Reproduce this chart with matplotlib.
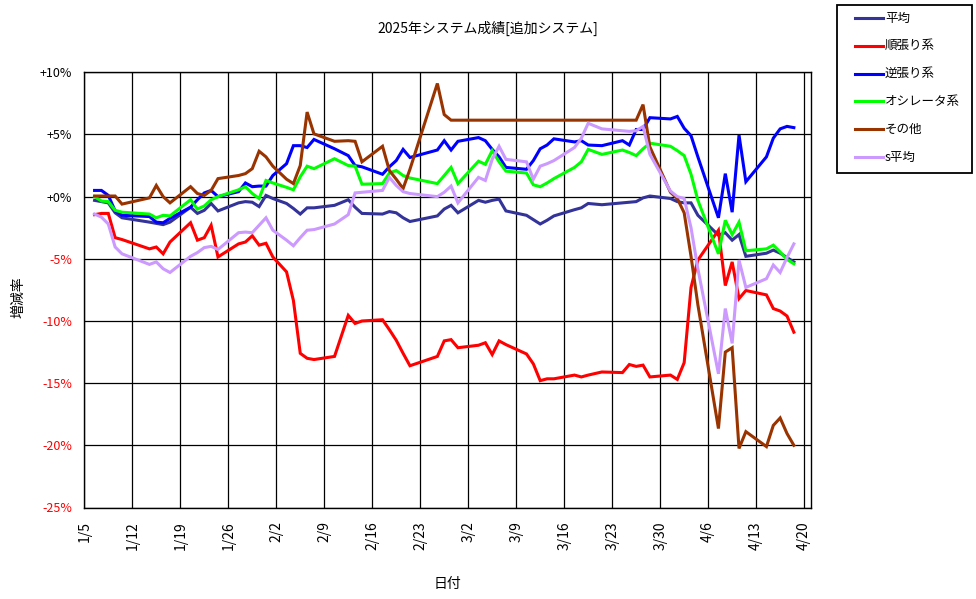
import matplotlib
matplotlib.use("Agg")
import matplotlib.pyplot as plt
import pandas as pd
from matplotlib.lines import Line2D
from matplotlib.patches import Rectangle

plt.rcParams['font.family'] = ['Noto Sans CJK JP', 'DejaVu Sans']

title = "2025年システム成績[追加システム]"
xlabel = "日付"
ylabel = "増減率"

dates = ["1/6", "1/7", "1/8", "1/9", "1/10", "1/14", "1/15", "1/16", "1/17", "1/20",
         "1/21", "1/22", "1/23", "1/24", "1/27", "1/28", "1/29", "1/30", "1/31",
         "2/1", "2/3", "2/4", "2/5", "2/6", "2/7", "2/10", "2/12", "2/13", "2/14",
         "2/17", "2/18", "2/19", "2/20", "2/21", "2/25", "2/26", "2/27", "2/28",
         "3/3", "3/4", "3/5", "3/6", "3/7", "3/10", "3/11", "3/12", "3/13", "3/14",
         "3/17", "3/18", "3/19", "3/21", "3/24", "3/25", "3/26", "3/27", "3/28", "3/31",
         "4/1", "4/2", "4/3", "4/4", "4/7", "4/8", "4/9", "4/10", "4/11",
         "4/14", "4/15", "4/16", "4/17", "4/18"]

series_names = ["平均", "順張り系", "逆張り系", "オシレータ系", "その他", "s平均"]
series_colors = ["#333399", "#FF0000", "#0000FF", "#00FF00", "#993300", "#CC99FF"]

avg = [-0.3, -0.4, -0.5, -1.3, -1.7, -2.05, -2.15, -2.25, -2.05, -0.85,
       -1.35, -1.1, -0.55, -1.15, -0.5, -0.4, -0.45, -0.8, 0.1,
       -0.15, -0.55, -0.95, -1.4, -0.9, -0.9, -0.7, -0.25, -0.85, -1.35,
       -1.4, -1.2, -1.3, -1.7, -2.0, -1.55, -1.0, -0.7, -1.3,
       -0.3, -0.45, -0.3, -0.2, -1.15, -1.5, -1.85, -2.2, -1.9, -1.55,
       -1.05, -0.9, -0.55, -0.65, -0.5, -0.45, -0.4, -0.1, 0.05, -0.15,
       -0.4, -0.5, -0.5, -1.5, -3.1, -2.9, -3.5, -3.05, -4.8,
       -4.55, -4.3, -4.55, -4.9, -5.25]

trend = [-1.45, -1.35, -1.35, -3.3, -3.45, -4.2, -4.05, -4.6, -3.65, -2.1,
         -3.5, -3.3, -2.3, -4.85, -3.8, -3.65, -3.15, -3.9, -3.75,
         -4.85, -6.05, -8.35, -12.6, -13.0, -13.1, -12.85, -9.55, -10.2, -10.0,
         -9.9, -10.7, -11.55, -12.6, -13.6, -12.85, -11.6, -11.5, -12.15,
         -11.95, -11.75, -12.7, -11.6, -11.9, -12.65, -13.45, -14.8, -14.65, -14.65,
         -14.35, -14.5, -14.35, -14.1, -14.15, -13.5, -13.65, -13.55, -14.5, -14.35,
         -14.7, -13.35, -7.3, -5.1, -2.7, -7.15, -5.25, -8.2, -7.55,
         -7.9, -9.0, -9.2, -9.6, -10.9]

contra = [0.5, 0.5, 0.1, -1.15, -1.5, -1.6, -2.05, -2.1, -1.75, -0.85,
          -0.25, 0.3, 0.5, 0.0, 0.4, 1.1, 0.8, 0.85, 0.85,
          1.7, 2.65, 4.1, 4.1, 3.95, 4.6, 3.85, 3.3, 2.5, 2.4,
          1.8, 2.4, 2.9, 3.8, 3.15, 3.75, 4.5, 3.75, 4.45,
          4.75, 4.5, 3.8, 3.2, 2.35, 2.2, 2.9, 3.85, 4.15, 4.65,
          4.4, 4.5, 4.15, 4.1, 4.5, 4.15, 5.4, 5.4, 6.35, 6.25,
          6.45, 5.5, 4.9, 3.2, -1.7, 1.85, -1.25, 4.95, 1.2,
          3.2, 4.7, 5.45, 5.65, 5.55]

osc = [0.0, -0.35, -0.4, -1.1, -1.25, -1.4, -1.7, -1.5, -1.55, -0.25,
       -1.0, -0.75, -0.25, 0.0, 0.55, 0.8, 0.25, -0.15, 1.3,
       1.1, 0.75, 0.55, 1.6, 2.45, 2.25, 3.05, 2.5, 2.45, 1.0,
       1.05, 1.9, 2.1, 1.7, 1.5, 1.05, 1.7, 2.35, 1.05,
       2.85, 2.6, 3.7, 2.8, 2.05, 1.9, 0.95, 0.8, 1.1, 1.45,
       2.35, 2.8, 3.8, 3.4, 3.75, 3.55, 3.3, 3.85, 4.3, 4.05,
       3.7, 3.3, 1.8, -0.3, -4.6, -1.9, -3.05, -2.05, -4.35,
       -4.2, -3.9, -4.45, -5.05, -5.4]

other = [0.05, 0.05, 0.05, 0.05, -0.6, -0.1, 0.9, 0.0, -0.5, 0.8,
         0.25, 0.1, 0.5, 1.45, 1.7, 1.85, 2.25, 3.65, 3.2,
         2.45, 1.4, 1.05, 2.5, 6.8, 5.05, 4.45, 4.5, 4.45, 2.8,
         4.05, 2.1, 1.4, 0.65, 2.2, 9.1, 6.6, 6.15, 6.15,
         6.15, 6.15, 6.15, 6.15, 6.15, 6.15, 6.15, 6.15, 6.15, 6.15,
         6.15, 6.15, 6.15, 6.15, 6.15, 6.15, 6.15, 7.4, 4.0, 0.35,
         -0.15, -1.3, -4.8, -8.7, -18.65, -12.5, -12.15, -20.25, -18.9,
         -20.1, -18.4, -17.8, -19.05, -20.0]

s_avg = [-1.4, -1.65, -2.2, -4.05, -4.6, -5.45, -5.25, -5.8, -6.1, -4.8,
         -4.5, -4.1, -4.0, -4.25, -2.9, -2.85, -2.9, -2.3, -1.7,
         -2.7, -3.5, -3.95, -3.3, -2.7, -2.65, -2.2, -1.45, 0.3, 0.35,
         0.5, 1.55, 0.9, 0.4, 0.25, 0.0, 0.35, 0.85, -0.5,
         1.55, 1.3, 3.0, 4.05, 3.0, 2.8, 1.4, 2.45, 2.65, 2.9,
         3.95, 4.7, 5.9, 5.45, 5.3, 5.25, 5.3, 5.65, 3.4, 0.45,
         0.0, -0.15, -2.5, -5.8, -14.25, -9.0, -11.8, -5.1, -7.3,
         -6.6, -5.5, -6.1, -4.9, -3.8]

tick_labels = ["1/5", "1/12", "1/19", "1/26", "2/2", "2/9", "2/16", "2/23",
               "3/2", "3/9", "3/16", "3/23", "3/30", "4/6", "4/13", "4/20"]
y_ticks = [10, 5, 0, -5, -10, -15, -20, -25]
y_tick_labels = ["+10%", "+5%", "+0%", "-5%", "-10%", "-15%", "-20%", "-25%"]

series_values = [avg, trend, contra, osc, other, s_avg]

# ---- layout ----
W, H = 976, 599
fig = plt.figure(figsize=(W / 100, H / 100), dpi=100)
L, R, T, B = 84.3, 811.0, 72.3, 507.5
ax = fig.add_axes([L / W, 1 - B / H, (R - L) / W, (B - T) / H])

origin = pd.Timestamp("2025-01-05")
def day_pos(s):
    return (pd.Timestamp("2025/" + s) - origin).days

x = [day_pos(s) + 0.5 for s in dates]
xt = [day_pos(s) for s in tick_labels]

for name, col, vals in zip(series_names, series_colors, series_values):
    ax.plot(x, vals, color=col, lw=2.2, label=name, solid_joinstyle='miter')

ax.set_xlim(0, 106)
ax.set_ylim(-25, 10)
ax.set_xticks(xt)
ax.set_xticklabels(tick_labels, rotation=90, fontsize=10)
ax.set_yticks(y_ticks)
ax.set_yticklabels(y_tick_labels, fontsize=9)
for lab, v in zip(ax.get_yticklabels(), y_ticks):
    lab.set_color('red' if v < 0 else 'black')
ax.tick_params(axis='both', length=0)
ax.tick_params(axis='y', pad=9)
ax.tick_params(axis='x', pad=10)
ax.grid(True, color='black', linewidth=0.9)
ax.set_axisbelow(True)
for sp in ax.spines.values():
    sp.set_color('black')
    sp.set_linewidth(1.0)

ax.set_xlabel(xlabel, fontsize=10, va='center')
ax.xaxis.set_label_coords((447 - L) / (R - L), -(584 - B) / (B - T))
ax.set_ylabel(ylabel, fontsize=10, va='center', ha='center')
ax.yaxis.set_label_coords((18 - L) / (R - L), (B - 297) / (B - T))

fig.text(0.5, 1 - 28 / H, title, ha='center', va='center', fontsize=10)

# ---- legend box (right side) ----
lx0, ly0, lx1, ly1 = 837, 5, 972, 173
fig.add_artist(Rectangle((lx0 / W, 1 - ly1 / H), (lx1 - lx0) / W, (ly1 - ly0) / H,
                         transform=fig.transFigure, facecolor='white',
                         edgecolor='black', linewidth=1.3))
for i, (name, col) in enumerate(zip(series_names, series_colors)):
    yy = 1 - (18 + i * 27.8) / H
    fig.add_artist(Line2D([855 / W, 883 / W], [yy, yy], transform=fig.transFigure,
                          color=col, lw=2.2))
    fig.text(885 / W, yy, name, ha='left', va='center', fontsize=9)

fig.savefig("out.png", dpi=100)
